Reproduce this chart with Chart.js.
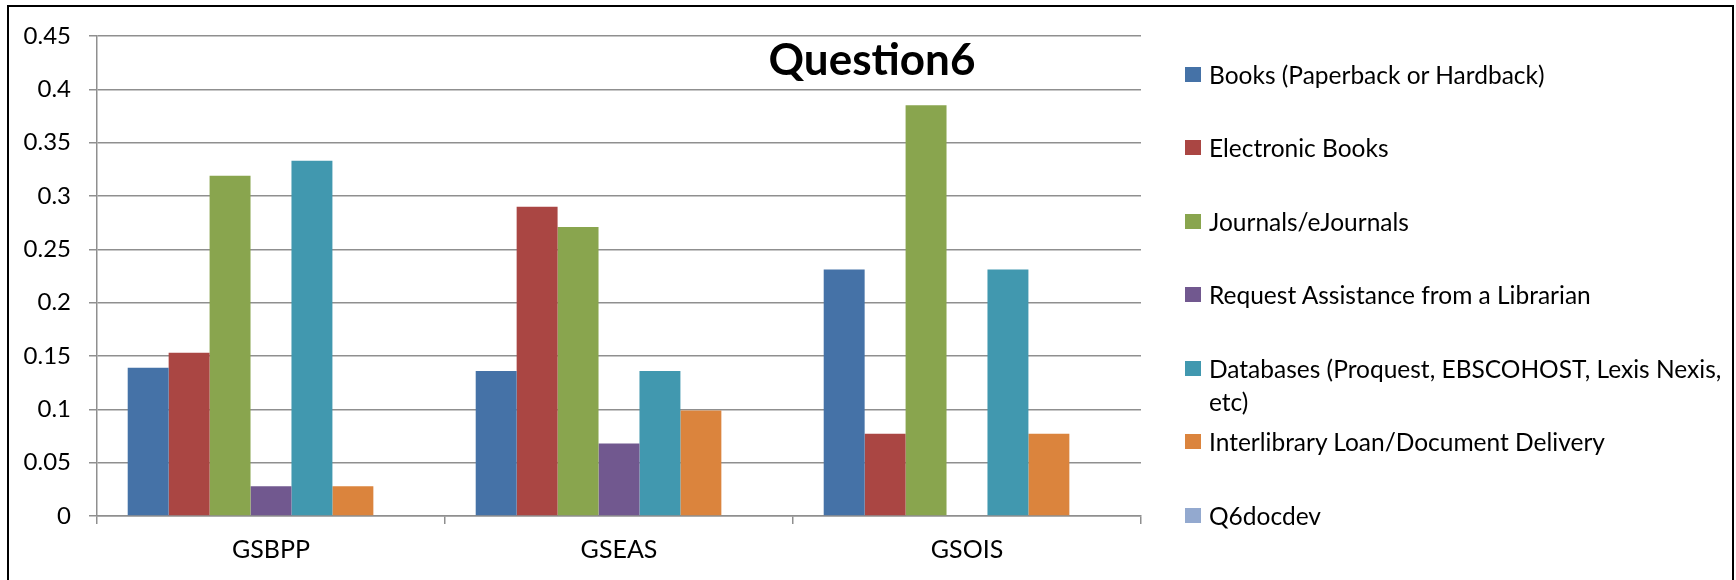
<!DOCTYPE html>
<html>
<head>
<meta charset="utf-8">
<script src="https://cdn.jsdelivr.net/npm/chart.js@4/dist/chart.umd.min.js"></script>
<style>
  html, body { margin: 0; padding: 0; background: #fff; }
  #wrap { position: relative; width: 1736px; height: 580px; overflow: hidden; font-family: Lato, "Open Sans", sans-serif; }
  #frame { position: absolute; left: 7px; top: 5px; width: 1727px; height: 600px; border: 2px solid #000; box-sizing: border-box; pointer-events: none; }
  #title { position: absolute; left: 622px; width: 500px; top: 32px; text-align: center; font-weight: bold; font-size: 44px; line-height: 52px; color: #000; }
  #legend { position: absolute; left: 0; top: 0; }
  .item { position: absolute; left: 1185px; width: 550px; font-size: 24.5px; line-height: 33px; color: #000; }
  .swatch { position: absolute; left: 0; top: 9px; width: 16px; height: 15px; }
  .txt { position: absolute; left: 24px; width: 530px; }
</style>
</head>
<body>
<div id="wrap">
  <canvas id="c" width="1736" height="580"></canvas>
  <div id="title">Question6</div>
  <div id="legend"></div>
  <div id="frame"></div>
</div>
<script>
const categories = ['GSBPP', 'GSEAS', 'GSOIS'];
const seriesNames = [
  'Books (Paperback or Hardback)',
  'Electronic Books',
  'Journals/eJournals',
  'Request Assistance from a Librarian',
  'Databases (Proquest, EBSCOHOST, Lexis Nexis, etc)',
  'Interlibrary Loan/Document Delivery',
  'Q6docdev'
];
const books      = [0.139, 0.136, 0.231];
const ebooks     = [0.153, 0.290, 0.077];
const journals   = [0.319, 0.271, 0.385];
const librarian  = [0.028, 0.068, 0];
const databases  = [0.333, 0.136, 0.231];
const interlib   = [0.028, 0.099, 0.077];
const q6docdev   = [0, 0, 0];
const yTickLabels = ['0', '0.05', '0.1', '0.15', '0.2', '0.25', '0.3', '0.35', '0.4', '0.45'];
const colors = ['#4572A7', '#AA4643', '#89A54E', '#71588F', '#4198AF', '#DB843D', '#93A9CF'];

const seriesValues = [books, ebooks, journals, librarian, databases, interlib, q6docdev];
const datasets = seriesValues.map((vals, i) => ({
  label: seriesNames[i],
  data: vals,
  backgroundColor: colors[i],
  borderWidth: 0,
  categoryPercentage: 7 / 8.5,
  barPercentage: 1.0
}));

const gridColor = '#8f8f8f';
const FONT = 'Lato, "Open Sans", sans-serif';

new Chart(document.getElementById('c'), {
  type: 'bar',
  data: { labels: categories, datasets },
  options: {
    responsive: false,
    animation: false,
    events: [],
    layout: { padding: { left: 0, top: 36, right: 595, bottom: 0 } },
    plugins: { legend: { display: false }, title: { display: false }, tooltip: { enabled: false } },
    scales: {
      x: {
        grid: { drawOnChartArea: false, offset: true, tickLength: 8, color: gridColor, lineWidth: 1.5 },
        border: { color: gridColor, width: 1.5 },
        ticks: { color: '#000', font: { family: FONT, size: 25 }, padding: 11, maxRotation: 0 },
        afterFit: s => { s.height = 64; }
      },
      y: {
        min: 0, max: 0.45,
        grid: { color: gridColor, lineWidth: 1.5, tickLength: 8 },
        border: { color: gridColor, width: 1.5 },
        ticks: {
          stepSize: 0.05,
          color: '#000',
          font: { family: FONT, size: 24 },
          padding: 18,
          callback: (v, i) => yTickLabels[i]
        },
        afterFit: s => { s.width = 97; }
      }
    }
  }
});

// HTML legend built from the series names and colours
const legend = document.getElementById('legend');
seriesNames.forEach((name, i) => {
  const item = document.createElement('div');
  item.className = 'item';
  item.style.top = (74 + i * 73.5 - 16.5) + 'px';
  const sw = document.createElement('div');
  sw.className = 'swatch';
  sw.style.background = colors[i];
  const t = document.createElement('div');
  t.className = 'txt';
  t.textContent = name;
  item.appendChild(sw);
  item.appendChild(t);
  legend.appendChild(item);
});
</script>
</body>
</html>
